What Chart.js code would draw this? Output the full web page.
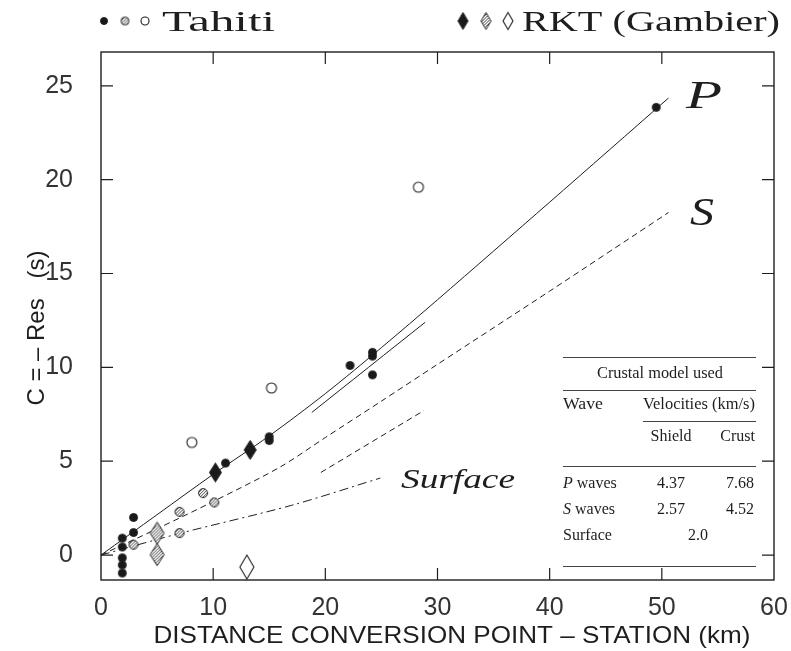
<!DOCTYPE html>
<html>
<head>
<meta charset="utf-8">
<script src="https://cdn.jsdelivr.net/npm/chart.js@4.4.1/dist/chart.umd.min.js"></script>
<style>
  html, body { margin: 0; padding: 0; background: #fff; }
  canvas { display: block; }
</style>
</head>
<body>
<canvas id="residuals" width="791" height="651"></canvas>
<script>
// observed residuals, Tahiti stations (three shades) and RKT (Gambier)
const tahitiDarkX = [1.9, 1.9, 1.9, 1.9, 1.9, 2.9, 2.9, 11.1, 15.0, 15.0, 22.2, 24.2, 24.2, 24.2, 49.5];
const tahitiDarkY = [0.9, 0.43, -0.15, -0.53, -0.96, 2.0, 1.2, 4.9, 6.3, 6.1, 10.1, 10.8, 10.6, 9.6, 23.85];
const tahitiGreyX = [2.9, 7.0, 7.0, 9.1, 10.1];
const tahitiGreyY = [0.55, 2.3, 1.17, 3.3, 2.8];
const tahitiOpenX = [8.1, 15.2, 28.3];
const tahitiOpenY = [6.0, 8.9, 19.6];
const rktDarkX = [10.2, 13.3];
const rktDarkY = [4.4, 5.6];
const rktGreyX = [5.0, 5.0];
const rktGreyY = [1.17, 0.02];
const rktOpenX = [13.0];
const rktOpenY = [-0.64];

// model curves
const pCurveX = [0, 5, 10, 15, 20, 25, 30, 40, 50.6];
const pCurveY = [0, 2.15, 4.3, 6.35, 8.6, 11.05, 13.6, 18.8, 24.35];
const pCrustX = [18.8, 28.9];
const pCrustY = [7.6, 12.4];
const sCurveX = [0, 5, 10, 16, 20, 25, 30, 40, 50.6];
const sCurveY = [0, 1.4, 2.85, 4.7, 6.26, 8.2, 10.16, 14.06, 18.25];
const sCrustX = [19.6, 28.8];
const sCrustY = [4.4, 7.7];
const surfaceX = [0, 7, 17, 24.9];
const surfaceY = [0, 1.15, 2.65, 4.1];

const xTicks = [0, 10, 20, 30, 40, 50, 60];
const yTicks = [0, 5, 10, 15, 20, 25];

const tableRows = [
    ['P', ' waves', '4.37', '7.68'],
    ['S', ' waves', '2.57', '4.52'],
    ['', 'Surface', '2.0', ''],
];

const pts = (xs, ys) => xs.map((x, i) => ({ x, y: ys[i] }));

const INK = '#1e1e1e';

// 3x3 tile with a few dark pixels, gives the speckled grey fill
function stipple() {
    const c = document.createElement('canvas');
    c.width = 3; c.height = 3;
    const g = c.getContext('2d');
    g.fillStyle = '#fff';
    g.fillRect(0, 0, 3, 3);
    g.fillStyle = '#444';
    g.fillRect(0, 0, 1, 1);
    g.fillRect(2, 1, 1, 1);
    g.fillRect(1, 2, 1, 1);
    return c;
}

function makeCircle(r, fill, lw) {
    const c = document.createElement('canvas');
    const s = Math.ceil(2 * r + lw + 2);
    c.width = c.height = s;
    const g = c.getContext('2d');
    g.beginPath();
    g.arc(s / 2, s / 2, r, 0, Math.PI * 2);
    g.fillStyle = fill === 'grey' ? g.createPattern(stipple(), 'repeat') : fill;
    g.fill();
    g.lineWidth = lw;
    g.strokeStyle = INK;
    g.stroke();
    return c;
}

function makeDiamond(hw, hh, fill, lw) {
    const c = document.createElement('canvas');
    c.width = Math.ceil(2 * hw + lw + 2);
    c.height = Math.ceil(2 * hh + lw + 2);
    const g = c.getContext('2d');
    const cx = c.width / 2, cy = c.height / 2;
    g.beginPath();
    g.moveTo(cx, cy - hh);
    g.lineTo(cx + hw, cy);
    g.lineTo(cx, cy + hh);
    g.lineTo(cx - hw, cy);
    g.closePath();
    g.fillStyle = fill === 'grey' ? g.createPattern(stipple(), 'repeat') : fill;
    g.fill();
    g.lineWidth = lw;
    g.strokeStyle = INK;
    g.stroke();
    return c;
}

const dotDark = makeCircle(4, '#1a1a1a', 1);
const dotGrey = makeCircle(4.5, 'grey', 1);
const dotOpen = makeCircle(5, '#fff', 1.1);
const diaDark = makeDiamond(6, 9.5, '#1a1a1a', 1);
const diaGrey = makeDiamond(7, 11, 'grey', 1);
const diaOpen = makeDiamond(7, 12, '#fff', 1.1);

const legDark = makeCircle(3.5, '#1a1a1a', 1);
const legGrey = makeCircle(4, 'grey', 1);
const legOpen = makeCircle(4, '#fff', 1.1);
const legDiaDark = makeDiamond(5, 8.5, '#1a1a1a', 1);
const legDiaGrey = makeDiamond(5, 8.5, 'grey', 1);
const legDiaOpen = makeDiamond(5, 8.5, '#fff', 1.1);

// draw text, optionally stretched horizontally to a given width
function fitText(ctx, str, x, y, font, width, align) {
    ctx.save();
    ctx.font = font;
    const w = ctx.measureText(str).width;
    ctx.translate(x, y);
    if (width) ctx.scale(width / w, 1);
    ctx.textAlign = align || 'left';
    ctx.textBaseline = 'alphabetic';
    ctx.fillStyle = INK;
    ctx.fillText(str, 0, 0);
    ctx.restore();
}

function hline(ctx, x1, x2, y) {
    ctx.beginPath();
    ctx.moveTo(x1, y);
    ctx.lineTo(x2, y);
    ctx.stroke();
}

const framePlugin = {
    id: 'frame',
    beforeDatasetsDraw(chart) {
        const { ctx, chartArea: a, scales } = chart;
        ctx.save();
        ctx.strokeStyle = INK;
        ctx.lineWidth = 1.4;
        ctx.strokeRect(a.left, a.top, a.right - a.left, a.bottom - a.top);
        ctx.lineWidth = 1.2;
        const len = 12;
        xTicks.slice(1, -1).forEach((v) => {
            const px = scales.x.getPixelForValue(v);
            ctx.beginPath();
            ctx.moveTo(px, a.bottom); ctx.lineTo(px, a.bottom - len);
            ctx.moveTo(px, a.top); ctx.lineTo(px, a.top + len);
            ctx.stroke();
        });
        yTicks.forEach((v) => {
            const py = scales.y.getPixelForValue(v);
            ctx.beginPath();
            ctx.moveTo(a.left, py); ctx.lineTo(a.left + len, py);
            ctx.moveTo(a.right, py); ctx.lineTo(a.right - len, py);
            ctx.stroke();
        });
        ctx.restore();
    },
    afterDraw(chart) {
        const { ctx } = chart;
        const serif = '"Liberation Serif", serif';
        const sans = '"Liberation Sans", sans-serif';
        ctx.save();

        // legend row
        const ly = 21;
        [[legDark, 104], [legGrey, 125], [legOpen, 145]].forEach(([img, x]) => {
            ctx.drawImage(img, x - img.width / 2, ly - img.height / 2);
        });
        fitText(ctx, 'Tahiti', 162, 31, '29px ' + serif, 113);
        [[legDiaDark, 463], [legDiaGrey, 486], [legDiaOpen, 508]].forEach(([img, x]) => {
            ctx.drawImage(img, x - img.width / 2, ly - img.height / 2);
        });
        fitText(ctx, 'RKT (Gambier)', 522, 31, '29px ' + serif, 258);

        // axis titles
        fitText(ctx, 'DISTANCE CONVERSION POINT – STATION (km)', 452, 643, '24px ' + sans, 597, 'center');
        ctx.save();
        ctx.translate(44, 328);
        ctx.rotate(-Math.PI / 2);
        fitText(ctx, 'C = – Res   (s)', 0, 0, '24px ' + sans, 155, 'center');
        ctx.restore();

        // curve labels
        fitText(ctx, 'P', 686, 108, 'italic 40px ' + serif, 36);
        fitText(ctx, 'S', 690, 225, 'italic 40px ' + serif, 24);
        fitText(ctx, 'Surface', 401, 488, 'italic 28px ' + serif, 114);

        // crustal model table
        ctx.strokeStyle = '#444';
        ctx.lineWidth = 1;
        const tl = 563, tr = 756;
        const f = '16px ' + serif;
        const fi = 'italic 16px ' + serif;
        hline(ctx, tl, tr, 357.5);
        fitText(ctx, 'Crustal model used', 660, 378, f, 126, 'center');
        hline(ctx, tl, tr, 390.5);
        fitText(ctx, 'Wave', tl, 409, f, 40);
        fitText(ctx, 'Velocities (km/s)', 643, 409, f, 112);
        hline(ctx, 643, tr, 421.5);
        fitText(ctx, 'Shield', 671, 441, f, null, 'center');
        fitText(ctx, 'Crust', tr - 1, 441, f, null, 'right');
        hline(ctx, tl, tr, 466.5);
        const rowY = [488, 514, 540];
        tableRows.forEach(([it, rest, shield, crust], i) => {
            const y = rowY[i];
            let x = tl;
            if (it) {
                ctx.font = fi;
                fitText(ctx, it, x, y, fi);
                x += ctx.measureText(it).width;
            }
            fitText(ctx, rest, x, y, f);
            if (crust) {
                fitText(ctx, shield, 671, y, f, null, 'center');
                fitText(ctx, crust, tr - 2, y, f, null, 'right');
            } else {
                fitText(ctx, shield, 698, y, f, null, 'center');
            }
        });
        hline(ctx, tl, tr, 566.5);
        ctx.restore();
    },
};

const lineSet = (xs, ys, dash) => ({
    data: pts(xs, ys),
    showLine: true,
    borderColor: INK,
    borderWidth: 1,
    borderDash: dash,
    pointRadius: 0,
    fill: false,
    tension: 0.3,
});

const pointSet = (xs, ys, img) => ({
    data: pts(xs, ys),
    pointStyle: img,
    pointRadius: 5,
    showLine: false,
});

const tickFont = { family: '"Liberation Sans", sans-serif', size: 25 };

new Chart(document.getElementById('residuals'), {
    type: 'scatter',
    data: {
        datasets: [
            pointSet(rktOpenX, rktOpenY, diaOpen),
            pointSet(rktGreyX, rktGreyY, diaGrey),
            pointSet(rktDarkX, rktDarkY, diaDark),
            pointSet(tahitiOpenX, tahitiOpenY, dotOpen),
            pointSet(tahitiGreyX, tahitiGreyY, dotGrey),
            pointSet(tahitiDarkX, tahitiDarkY, dotDark),
            lineSet(pCurveX, pCurveY, []),
            lineSet(pCrustX, pCrustY, []),
            lineSet(sCurveX, sCurveY, [6, 4]),
            lineSet(sCrustX, sCrustY, [6, 4]),
            lineSet(surfaceX, surfaceY, [9, 4, 2, 4]),
        ],
    },
    options: {
        responsive: false,
        animation: false,
        devicePixelRatio: 1,
        layout: { padding: { top: 52, right: 17, left: 0, bottom: 0 } },
        plugins: {
            legend: { display: false },
            tooltip: { enabled: false },
        },
        scales: {
            x: {
                type: 'linear',
                min: 0,
                max: 60,
                grid: { display: false, drawTicks: false },
                border: { display: false },
                afterBuildTicks: (s) => { s.ticks = xTicks.map((value) => ({ value })); },
                afterFit: (s) => {
                    s.height = 71;
                    s.paddingLeft = 0;
                    s.paddingRight = 0;
                },
                ticks: {
                    color: '#333',
                    padding: 13,
                    maxRotation: 0,
                    font: tickFont,
                },
            },
            y: {
                type: 'linear',
                min: -1.33,
                max: 26.8,
                grid: { display: false, drawTicks: false },
                border: { display: false },
                afterBuildTicks: (s) => { s.ticks = yTicks.map((value) => ({ value })); },
                afterFit: (s) => {
                    s.width = 101;
                    s.paddingTop = 0;
                    s.paddingBottom = 0;
                },
                ticks: {
                    color: '#333',
                    padding: 28,
                    font: tickFont,
                },
            },
        },
    },
    plugins: [framePlugin],
});
</script>
</body>
</html>
